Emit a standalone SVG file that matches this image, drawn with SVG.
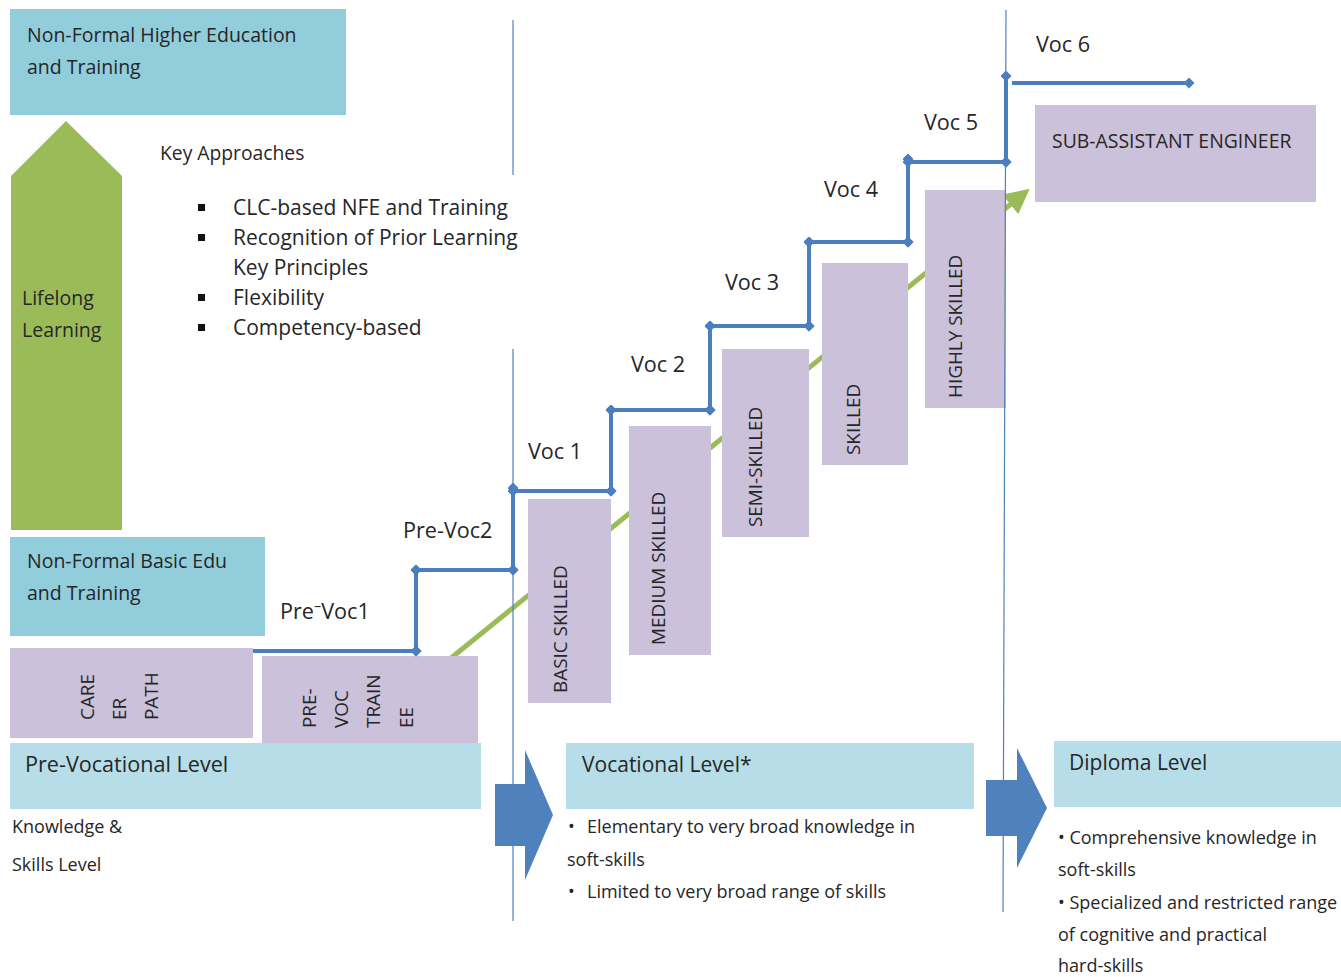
<svg xmlns="http://www.w3.org/2000/svg" width="1341" height="977" viewBox="0 0 1341 977">
<style>
text{font-family:"Open Sans","Noto Sans",sans-serif;fill:#262626}
.t20{font-size:19.5px}
.t21{font-size:21px}
.tl{font-size:21.6px}
.t18{font-size:19.3px}
.t17{font-size:18px}
.rot{font-size:18.9px}
.cyan{fill:#92CDDC}
.lvl{fill:#B7DEE8}
.pur{fill:#CCC1DA}
.step{stroke:#4A7EBF;stroke-width:4;fill:none;marker-start:url(#dia);marker-end:url(#dia)}
.vline{stroke:#4F81BD;stroke-width:1.2}
</style>
<defs>
<marker id="dia" viewBox="-6 -6 12 12" markerWidth="11" markerHeight="11" markerUnits="userSpaceOnUse" orient="auto" refX="0" refY="0">
<path d="M-6,0 L0,-6 L6,0 L0,6 Z" fill="#4A7EBF"/>
</marker>
<marker id="garr" viewBox="0 0 10 10" markerWidth="5" markerHeight="5" refX="6" refY="5" orient="auto">
<path d="M0,0 L10,5 L0,10 Z" fill="#9BBB59"/>
</marker>
</defs>
<rect width="1341" height="977" fill="#fff"/>

<g id="green-progress">
<line x1="440" y1="667" x2="1022" y2="195" stroke="#9BBB59" stroke-width="5" marker-end="url(#garr)"/>
</g>

<g id="nfhe">
<rect class="cyan" x="10" y="9" width="336" height="106"/>
<text class="t20" x="27" y="42">Non-Formal Higher Education</text>
<text class="t20" x="27" y="74">and Training</text>
</g>

<g id="lifelong">
<polygon points="66,121 122,176 122,530 11,530 11,176" fill="#9BBB59"/>
<text class="t20" x="22" y="305">Lifelong</text>
<text class="t20" x="22" y="337">Learning</text>
</g>

<g id="key-approaches">
<text class="t18" x="160" y="160">Key Approaches</text>
<rect x="198" y="204" width="7" height="7" fill="#111"/>
<rect x="198" y="234" width="7" height="7" fill="#111"/>
<rect x="198" y="294" width="7" height="7" fill="#111"/>
<rect x="198" y="324" width="7" height="7" fill="#111"/>
<text class="t21" x="233" y="215">CLC-based NFE and Training</text>
<text class="t21" x="233" y="245">Recognition of Prior Learning</text>
<text class="t21" x="233" y="275">Key Principles</text>
<text class="t21" x="233" y="305">Flexibility</text>
<text class="t21" x="233" y="335">Competency-based</text>
</g>

<g id="nfbe">
<rect class="cyan" x="10" y="537" width="255" height="99"/>
<text class="t20" x="27" y="568">Non-Formal Basic Edu</text>
<text class="t20" x="27" y="600">and Training</text>
</g>

<g id="career-path">
<rect class="pur" x="10" y="648" width="243" height="90"/>
<text class="rot" transform="translate(94,720) rotate(-90)">CARE</text>
<text class="rot" transform="translate(126,720) rotate(-90)">ER</text>
<text class="rot" transform="translate(158,720) rotate(-90)">PATH</text>
</g>

<g id="pre-voc-trainee">
<rect class="pur" x="262" y="656" width="216" height="89"/>
<text class="rot" transform="translate(316,728) rotate(-90)">PRE-</text>
<text class="rot" transform="translate(348,728) rotate(-90)">VOC</text>
<text class="rot" transform="translate(380,728) rotate(-90)">TRAIN</text>
<text class="rot" transform="translate(413,728) rotate(-90)">EE</text>
</g>

<g id="basic-skilled">
<rect class="pur" x="528" y="499" width="83" height="204"/>
<text class="rot" transform="translate(567,693) rotate(-90)">BASIC SKILLED</text>
</g>
<g id="medium-skilled">
<rect class="pur" x="629" y="426" width="82" height="229"/>
<text class="rot" transform="translate(665,645) rotate(-90)">MEDIUM SKILLED</text>
</g>
<g id="semi-skilled">
<rect class="pur" x="722" y="349" width="87" height="188"/>
<text class="rot" transform="translate(762,527) rotate(-90)">SEMI-SKILLED</text>
</g>
<g id="skilled">
<rect class="pur" x="822" y="263" width="86" height="202"/>
<text class="rot" transform="translate(860,455) rotate(-90)">SKILLED</text>
</g>
<g id="highly-skilled">
<rect class="pur" x="925" y="190" width="81" height="218"/>
<text class="rot" transform="translate(962,398) rotate(-90)">HIGHLY SKILLED</text>
</g>
<g id="sub-assistant">
<rect class="pur" x="1035" y="105" width="281" height="97"/>
<text class="rot" x="1052" y="148" style="font-size:19.4px">SUB-ASSISTANT ENGINEER</text>
</g>

<g id="arrows-block">
<polygon points="495,784 525,784 525,750 553,815 525,880 525,846 495,846" fill="#4F81BD"/>
<polygon points="986,780 1017,780 1017,748 1047,808 1017,868 1017,836 986,836" fill="#4F81BD"/>
</g>

<g id="dividers">
<line class="vline" x1="513" y1="20" x2="513" y2="175"/>
<line class="vline" x1="513" y1="349" x2="513" y2="921"/>
<line class="vline" x1="1006" y1="10" x2="1003" y2="912"/>
</g>

<g id="connectors">
<line class="step" x1="253" y1="651" x2="416" y2="651" style="marker-start:none"/>
<line class="step" x1="416" y1="651" x2="416" y2="570"/>
<line class="step" x1="416" y1="570" x2="513" y2="570"/>
<line class="step" x1="513" y1="570" x2="513" y2="488"/>
<line class="step" x1="513" y1="491" x2="611" y2="491"/>
<line class="step" x1="611" y1="491" x2="611" y2="410"/>
<line class="step" x1="611" y1="410" x2="710" y2="410"/>
<line class="step" x1="710" y1="410" x2="710" y2="326"/>
<line class="step" x1="710" y1="326" x2="809" y2="326"/>
<line class="step" x1="809" y1="326" x2="809" y2="242"/>
<line class="step" x1="809" y1="242" x2="908" y2="242"/>
<line class="step" x1="908" y1="242" x2="908" y2="159"/>
<line class="step" x1="908" y1="162" x2="1006" y2="162"/>
<line class="step" x1="1006" y1="162" x2="1006" y2="76"/>
<line class="step" x1="1012" y1="83" x2="1189" y2="83" style="marker-start:none"/>
</g>

<g id="step-labels">
<text class="tl" x="280" y="619">Pre⁻Voc1</text>
<text class="tl" x="403" y="538">Pre-Voc2</text>
<text class="tl" x="528" y="459">Voc 1</text>
<text class="tl" x="631" y="372">Voc 2</text>
<text class="tl" x="725" y="290">Voc 3</text>
<text class="tl" x="824" y="197">Voc 4</text>
<text class="tl" x="924" y="130">Voc 5</text>
<text class="tl" x="1036" y="52">Voc 6</text>
</g>

<g id="pre-vocational-level">
<rect class="lvl" x="10" y="743" width="471" height="66"/>
<text class="tl" x="25" y="772">Pre-Vocational Level</text>
<text class="t17" x="12" y="833">Knowledge &amp;</text>
<text class="t17" x="12" y="871">Skills Level</text>
</g>

<g id="vocational-level">
<rect class="lvl" x="566" y="743" width="408" height="66"/>
<text class="t21" x="582" y="772">Vocational Level*</text>
<text class="t17" x="568" y="833">•</text>
<text class="t17" x="587" y="833">Elementary to very broad knowledge in</text>
<text class="t17" x="567" y="866">soft-skills</text>
<text class="t17" x="568" y="898">•</text>
<text class="t17" x="587" y="898">Limited to very broad range of skills</text>
</g>

<g id="diploma-level">
<rect class="lvl" x="1054" y="741" width="287" height="66"/>
<text class="t21" x="1069" y="770">Diploma Level</text>
<text class="t17" x="1058" y="844">• Comprehensive knowledge in</text>
<text class="t17" x="1058" y="876">soft-skills</text>
<text class="t17" x="1058" y="909">• Specialized and restricted range</text>
<text class="t17" x="1058" y="941">of cognitive and practical</text>
<text class="t17" x="1058" y="972">hard-skills</text>
</g>
</svg>
